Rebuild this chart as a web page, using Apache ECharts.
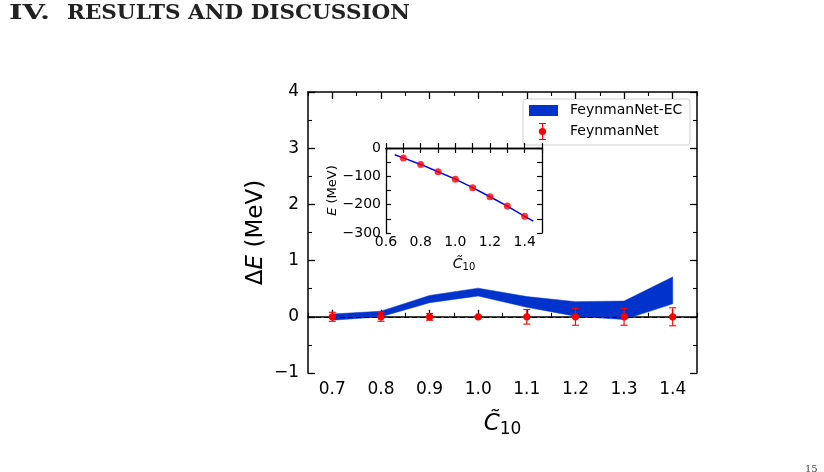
<!DOCTYPE html>
<html>
<head>
<meta charset="utf-8">
<script src="https://cdn.jsdelivr.net/npm/echarts@6/dist/echarts.min.js"></script>
<style>
  html, body { margin: 0; padding: 0; background: #fff; }
  #chart { width: 824px; height: 472px; }
</style>
</head>
<body>
<div id="chart"></div>
<script>
// main panel: Delta E vs C10
const c10 = [0.7, 0.8, 0.9, 1.0, 1.1, 1.2, 1.3, 1.4];
const ecLower = [-0.06, 0.0, 0.25, 0.37, 0.17, 0.01, -0.05, 0.23];
const ecUpper = [0.05, 0.10, 0.38, 0.51, 0.36, 0.27, 0.28, 0.71];
const netDelta = [0, 0, 0, 0, 0, 0, 0, 0];
const netErr = [0.08, 0.08, 0.06, 0.02, 0.13, 0.15, 0.15, 0.16];
const mainXTicks = [0.7, 0.8, 0.9, 1.0, 1.1, 1.2, 1.3, 1.4];
const mainXMinor = [0.65, 0.75, 0.85, 0.95, 1.05, 1.15, 1.25, 1.35, 1.45];

// inset: E vs C10
const insetE = [-35, -58, -84, -110, -140, -172, -205, -241];
const insetLineX = [0.65, 0.7, 0.8, 0.9, 1.0, 1.1, 1.2, 1.3, 1.4, 1.45];
const insetLineE = [-24, -35, -58, -84, -110, -140, -172, -205, -241, -258];
const insetXTicks = [0.6, 0.7, 0.8, 0.9, 1.0, 1.1, 1.2, 1.3, 1.4, 1.5];
const insetXLabels = [0.6, 0.8, 1.0, 1.2, 1.4];
const insetYTicks = [-300, -250, -200, -150, -100, -50, 0];
const insetYLabels = [-300, -200, -100, 0];

// page heading
const headParts = ['IV.', 'RESULTS AND DISCUSSION'];

const FONT = 'DejaVu Sans';
const BLUE = '#0033cc';
const RED = '#ff0000';
const minus = v => String(v).replace('-', '\u2212');

const chart = echarts.init(document.getElementById('chart'));

// stretch heading to the width it has on the page (wide bold serif)
const headFont = 'bold 20px "DejaVu Serif"';
const headPos = [[9, 41], [67, 343]];
const mctx = document.createElement('canvas').getContext('2d');
mctx.font = headFont;
const headGraphics = headParts.map((w, i) => ({
  type: 'text',
  x: headPos[i][0], y: 4,
  scaleX: headPos[i][1] / mctx.measureText(w).width,
  style: { text: w, font: headFont, fill: '#222' }
}));

function xAx(grid, pos, opts) {
  return Object.assign({
    type: 'value', gridIndex: grid, position: pos,
    splitLine: { show: false },
    axisLine: { show: true, lineStyle: { color: '#000', width: 1.5 } },
    axisTick: { show: true, inside: true, length: 7, lineStyle: { color: '#000', width: 1.3 } },
    axisLabel: { show: false }
  }, opts);
}

const mainX = { min: 0.65, max: 1.45 };
const insetX = { min: 0.6, max: 1.5, z: 8 };

const option = {
  animation: false,
  backgroundColor: '#fff',
  grid: [
    { left: 308, top: 92, width: 389, height: 281 },
    { left: 386, top: 148, width: 156, height: 85, show: true, backgroundColor: '#fff', borderWidth: 0, z: 1 }
  ],
  xAxis: [
    xAx(0, 'bottom', Object.assign({
      axisTick: { show: true, inside: true, length: 7, customValues: mainXTicks, lineStyle: { color: '#000', width: 1.3 } },
      axisLabel: { show: true, customValues: mainXTicks, margin: 8, fontFamily: FONT, fontSize: 17, color: '#000', formatter: v => v.toFixed(1) },
      name: '{c|C\u0303}{s|10}', nameLocation: 'middle', nameGap: 38,
      nameTextStyle: { rich: {
        c: { fontFamily: FONT, fontStyle: 'italic', fontSize: 23, color: '#000' },
        s: { fontFamily: FONT, fontSize: 17, color: '#000', verticalAlign: 'bottom', padding: [10, 0, 0, 0] }
      } }
    }, mainX)),
    xAx(0, 'bottom', Object.assign({
      axisLine: { show: false },
      axisTick: { show: true, inside: true, length: 4, customValues: mainXMinor, lineStyle: { color: '#000', width: 1.1 } }
    }, mainX)),
    xAx(0, 'top', Object.assign({
      axisTick: { show: true, inside: true, length: 7, customValues: mainXTicks, lineStyle: { color: '#000', width: 1.3 } }
    }, mainX)),
    xAx(0, 'top', Object.assign({
      axisLine: { show: false },
      axisTick: { show: true, inside: true, length: 4, customValues: mainXMinor, lineStyle: { color: '#000', width: 1.1 } }
    }, mainX)),
    // inset
    xAx(1, 'bottom', Object.assign({
      axisLine: { show: true, lineStyle: { color: '#000', width: 1.3 } },
      axisTick: { show: true, inside: true, length: 5, customValues: insetXTicks, lineStyle: { color: '#000', width: 1.2 } },
      axisLabel: { show: true, customValues: insetXLabels, margin: 2, fontFamily: FONT, fontSize: 14, color: '#000', formatter: v => v.toFixed(1) },
      name: '{c|C\u0303}{s|10}', nameLocation: 'middle', nameGap: 23,
      nameTextStyle: { rich: {
        c: { fontFamily: FONT, fontStyle: 'italic', fontSize: 14, color: '#000' },
        s: { fontFamily: FONT, fontSize: 10, color: '#000', verticalAlign: 'bottom', padding: [6, 0, 0, 0] }
      } }
    }, insetX)),
    xAx(1, 'top', Object.assign({
      axisLine: { show: true, lineStyle: { color: '#000', width: 1.3 } },
      axisTick: { show: true, inside: true, length: 5, customValues: insetXTicks, lineStyle: { color: '#000', width: 1.2 } }
    }, insetX))
  ],
  yAxis: [
    {
      type: 'value', gridIndex: 0, position: 'left', min: -1, max: 4, interval: 1,
      splitLine: { show: false },
      axisLine: { show: true, lineStyle: { color: '#000', width: 1.5 } },
      axisTick: { show: true, inside: true, length: 7, lineStyle: { color: '#000', width: 1.3 } },
      minorTick: { show: true, splitNumber: 2, length: 4, lineStyle: { color: '#000', width: 1.1 } },
      axisLabel: { margin: 9, fontFamily: FONT, fontSize: 17, color: '#000', formatter: minus },
      name: '{d|\u0394}{i|E}{d| (MeV)}', nameLocation: 'middle', nameGap: 40, nameRotate: 90,
      nameTextStyle: { rich: {
        d: { fontFamily: FONT, fontSize: 23, color: '#000' },
        i: { fontFamily: FONT, fontSize: 23, fontStyle: 'italic', color: '#000' }
      } }
    },
    {
      type: 'value', gridIndex: 0, position: 'right', min: -1, max: 4, interval: 1,
      splitLine: { show: false },
      axisLine: { show: true, lineStyle: { color: '#000', width: 1.5 } },
      axisTick: { show: true, inside: true, length: 7, lineStyle: { color: '#000', width: 1.3 } },
      minorTick: { show: true, splitNumber: 2, length: 4, lineStyle: { color: '#000', width: 1.1 } },
      axisLabel: { show: false }
    },
    {
      type: 'value', gridIndex: 1, position: 'left', min: -300, max: 0, z: 8,
      splitLine: { show: false },
      axisLine: { show: true, lineStyle: { color: '#000', width: 1.3 } },
      axisTick: { show: true, inside: true, length: 5, customValues: insetYTicks, lineStyle: { color: '#000', width: 1.2 } },
      axisLabel: { customValues: insetYLabels, margin: 5, fontFamily: FONT, fontSize: 14, color: '#000', formatter: minus },
      name: '{i|E}{d| (MeV)}', nameLocation: 'middle', nameGap: 46, nameRotate: 90,
      nameTextStyle: { rich: {
        d: { fontFamily: FONT, fontSize: 13, color: '#000' },
        i: { fontFamily: FONT, fontSize: 13, fontStyle: 'italic', color: '#000' }
      } }
    },
    {
      type: 'value', gridIndex: 1, position: 'right', min: -300, max: 0, z: 8,
      splitLine: { show: false },
      axisLine: { show: true, lineStyle: { color: '#000', width: 1.3 } },
      axisTick: { show: true, inside: true, length: 5, customValues: insetYTicks, lineStyle: { color: '#000', width: 1.2 } },
      axisLabel: { show: false }
    }
  ],
  series: [
    {
      // FeynmanNet-EC band (lower..upper)
      name: 'FeynmanNet-EC',
      type: 'custom',
      xAxisIndex: 0, yAxisIndex: 0,
      z: 2,
      data: c10.map((x, i) => [x, ecLower[i], ecUpper[i]]),
      encode: { x: 0, y: [1, 2] },
      renderItem: function (params, api) {
        if (params.dataIndex !== 0) return null;
        const top = [], bot = [];
        for (let i = 0; i < c10.length; i++) {
          top.push(api.coord([c10[i], ecUpper[i]]));
          bot.unshift(api.coord([c10[i], ecLower[i]]));
        }
        return {
          type: 'polygon',
          shape: { points: top.concat(bot) },
          style: { fill: BLUE, stroke: BLUE, lineWidth: 0.5 }
        };
      }
    },
    {
      // FeynmanNet points with error bars
      name: 'FeynmanNet',
      type: 'custom',
      xAxisIndex: 0, yAxisIndex: 0,
      z: 4,
      data: c10.map((x, i) => [x, netDelta[i], netErr[i]]),
      renderItem: function (params, api) {
        const x = api.value(0), y = api.value(1), e = api.value(2);
        const p = api.coord([x, y]);
        const lo = api.coord([x, y - e]);
        const hi = api.coord([x, y + e]);
        const cw = 3.5;
        const ls = { stroke: RED, lineWidth: 1.1 };
        return {
          type: 'group',
          children: [
            { type: 'line', shape: { x1: p[0], y1: lo[1], x2: p[0], y2: hi[1] }, style: ls },
            { type: 'line', shape: { x1: p[0] - cw, y1: lo[1], x2: p[0] + cw, y2: lo[1] }, style: ls },
            { type: 'line', shape: { x1: p[0] - cw, y1: hi[1], x2: p[0] + cw, y2: hi[1] }, style: ls },
            { type: 'circle', shape: { cx: p[0], cy: p[1], r: 3.6 }, style: { fill: RED } }
          ]
        };
      },
      markLine: {
        silent: true,
        symbol: 'none',
        z: 3,
        label: { show: false },
        lineStyle: { color: '#000', type: [5, 3], width: 1.2 },
        data: [{ yAxis: 0 }]
      }
    },
    {
      // inset line
      type: 'line',
      xAxisIndex: 4, yAxisIndex: 2,
      z: 6,
      data: insetLineX.map((x, i) => [x, insetLineE[i]]),
      showSymbol: false,
      lineStyle: { color: '#0000ff', width: 1.5 }
    },
    {
      // inset points
      type: 'scatter',
      xAxisIndex: 4, yAxisIndex: 2,
      z: 7,
      data: c10.map((x, i) => [x, insetE[i]]),
      symbolSize: 7,
      itemStyle: { color: RED }
    }
  ],
  graphic: headGraphics.concat([
    { type: 'text', x: 805, y: 464, style: { text: '15', font: '10px "DejaVu Serif"', fill: '#444' } },
    // legend
    {
      type: 'group', x: 523, y: 99, z: 10,
      children: [
        { type: 'rect', shape: { x: 0, y: 0, width: 167, height: 46, r: 3 }, style: { fill: '#fff', stroke: '#d0d0d0', lineWidth: 1 } },
        { type: 'rect', shape: { x: 6, y: 6, width: 29, height: 11 }, style: { fill: BLUE } },
        { type: 'text', x: 47, y: 11.5, style: { text: 'FeynmanNet-EC', font: '14px "DejaVu Sans"', fill: '#000', verticalAlign: 'middle' } },
        { type: 'line', shape: { x1: 19.5, y1: 24.5, x2: 19.5, y2: 40.5 }, style: { stroke: RED, lineWidth: 1.1 } },
        { type: 'line', shape: { x1: 16, y1: 24.5, x2: 23, y2: 24.5 }, style: { stroke: RED, lineWidth: 1.1 } },
        { type: 'line', shape: { x1: 16, y1: 40.5, x2: 23, y2: 40.5 }, style: { stroke: RED, lineWidth: 1.1 } },
        { type: 'circle', shape: { cx: 19.5, cy: 32.5, r: 3.6 }, style: { fill: RED } },
        { type: 'text', x: 47, y: 32.5, style: { text: 'FeynmanNet', font: '14px "DejaVu Sans"', fill: '#000', verticalAlign: 'middle' } }
      ]
    }
  ])
};

chart.setOption(option);
</script>
</body>
</html>
